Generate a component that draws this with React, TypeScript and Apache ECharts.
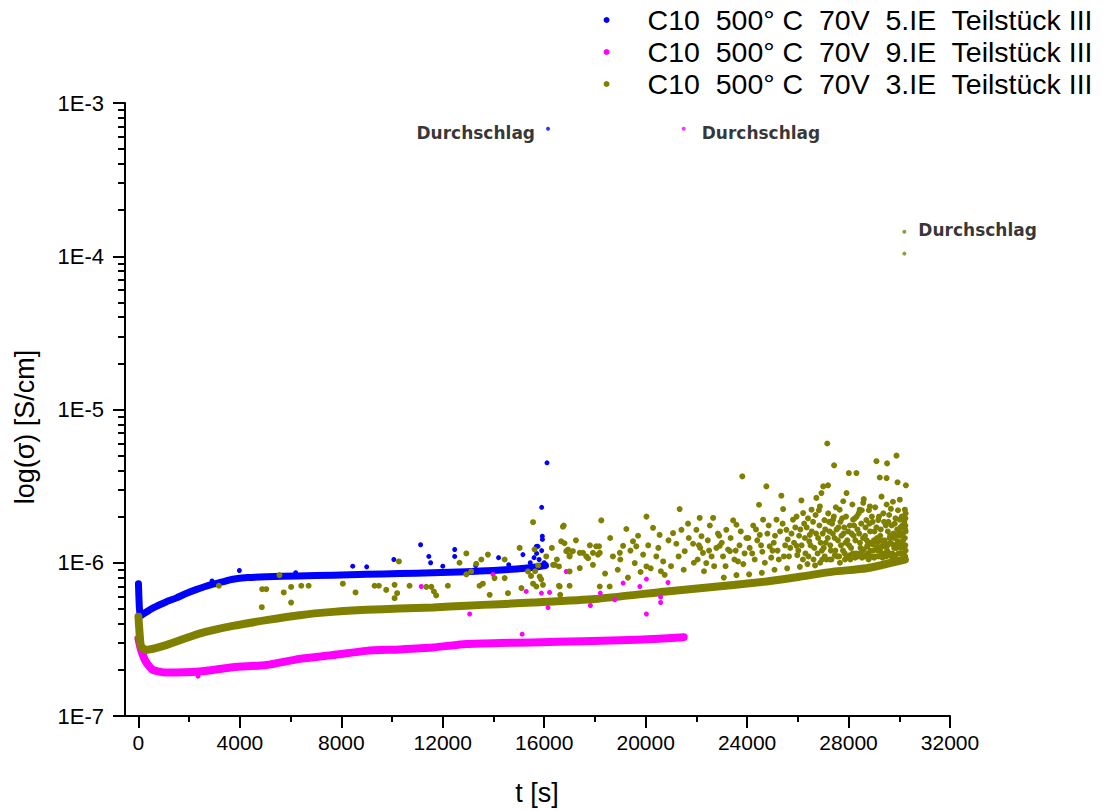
import React, { useEffect, useRef } from "react";
import * as echarts from "echarts";

const seriesNames = [
  "C10  500° C  70V  5.IE  Teilstück III",
  "C10  500° C  70V  9.IE  Teilstück III",
  "C10  500° C  70V  3.IE  Teilstück III",
];
const seriesColors = ["#0000ff", "#ff00ff", "#808000"];
const breakdownLabel = "Durchschlag";

const xTickLabels = [0, 4000, 8000, 12000, 16000, 20000, 24000, 28000, 32000];
const xMinorTicks = [2000, 6000, 10000, 14000, 18000, 22000, 26000, 30000];
const yTickLabels = ["1E-7", "1E-6", "1E-5", "1E-4", "1E-3"];
const yMinorTicks = [
  2e-7, 3e-7, 4e-7, 5e-7, 6e-7, 7e-7, 8e-7, 9e-7,
  2e-6, 3e-6, 4e-6, 5e-6, 6e-6, 7e-6, 8e-6, 9e-6,
  2e-5, 3e-5, 4e-5, 5e-5, 6e-5, 7e-5, 8e-5, 9e-5,
  2e-4, 3e-4, 4e-4, 5e-4, 6e-4, 7e-4, 8e-4, 9e-4,
];

// 5.IE (blue): dense band + scattered points + breakdown point
const blueBand: [number, number][] = [
  [0, 7.3e-7], [15, 6.2e-7], [40, 5.0e-7], [90, 4.5e-7], [250, 4.7e-7], [600, 5.1e-7],
  [1090, 5.55e-7], [1500, 5.9e-7], [1880, 6.3e-7], [2300, 6.7e-7], [2800, 7.15e-7],
  [3300, 7.5e-7], [3720, 7.8e-7], [4300, 8.0e-7], [5040, 8.1e-7], [6300, 8.2e-7],
  [7670, 8.3e-7], [9000, 8.4e-7], [10300, 8.5e-7], [11600, 8.6e-7], [12930, 8.75e-7],
  [14000, 8.9e-7], [14900, 9.1e-7], [15500, 9.3e-7], [16050, 9.6e-7],
];
const blueScatter: [number, number][] = [
  [16110, 4.49e-6], [15900, 2.3e-6], [15925, 1.49e-6], [15930, 1.42e-6], [15690, 1.28e-6],
  [11125, 1.31e-6], [11450, 1.1e-6], [11520, 1.0e-6], [12470, 1.22e-6], [12470, 1.1e-6],
  [14200, 1.08e-6], [15160, 1.13e-6], [10070, 1.05e-6], [8450, 9.5e-7], [9000, 9.4e-7],
  [3980, 8.9e-7], [12000, 9.5e-7], [15450, 1.0e-6], [15600, 1.08e-6], [15700, 1.15e-6],
  [15800, 1.05e-6], [15900, 1.2e-6], [16000, 1.0e-6], [15750, 1.28e-6], [13300, 9.6e-7],
  [14600, 9.7e-7], [6200, 8.6e-7], [2900, 7.6e-7],
];
const blueBreakdown: [number, number][] = [[16150, 6.8e-4]];

// 9.IE (magenta)
const magentaBand: [number, number][] = [
  [0, 3.2e-7], [105, 2.7e-7], [300, 2.25e-7], [565, 2.0e-7], [1090, 1.92e-7], [2400, 1.95e-7],
  [3720, 2.08e-7], [5040, 2.15e-7], [6350, 2.36e-7], [7670, 2.5e-7], [8980, 2.66e-7],
  [10300, 2.72e-7], [11610, 2.8e-7], [12930, 2.95e-7], [14240, 3.0e-7], [15550, 3.02e-7],
  [17530, 3.08e-7], [19000, 3.12e-7], [20300, 3.18e-7], [21500, 3.27e-7],
];
const magentaScatter: [number, number][] = [
  [11150, 7.0e-7], [13060, 4.63e-7], [13980, 8.4e-7], [15130, 3.42e-7], [15290, 6.5e-7],
  [15890, 6.34e-7], [16150, 5.1e-7], [16210, 6.4e-7], [16870, 8.77e-7], [17820, 5.26e-7],
  [18210, 6.34e-7], [18780, 5.73e-7], [19110, 7.37e-7], [19770, 7.0e-7], [20030, 7.82e-7],
  [20030, 4.63e-7], [20590, 5.97e-7], [20590, 5.5e-7], [20880, 7.43e-7], [2350, 1.82e-7],
];
const magentaBreakdown: [number, number][] = [[21500, 6.8e-4]];

// 3.IE (olive)
const oliveBand: [number, number][] = [
  [0, 4.45e-7], [50, 3.4e-7], [105, 2.85e-7], [300, 2.7e-7], [1090, 2.9e-7], [2400, 3.45e-7],
  [3720, 3.87e-7], [5040, 4.22e-7], [6350, 4.55e-7], [7670, 4.78e-7], [8980, 4.93e-7],
  [10300, 5.02e-7], [11610, 5.1e-7], [12930, 5.25e-7], [14240, 5.37e-7], [15550, 5.5e-7],
  [18000, 5.8e-7], [20820, 6.5e-7], [23450, 7.15e-7], [24760, 7.55e-7], [26080, 8.1e-7],
  [27390, 8.75e-7], [28710, 9.2e-7], [30220, 1.05e-6],
];
const oliveScatter: [number, number][] = [
  [3170, 7.08e-7], [4880, 6.72e-7], [5040, 6.72e-7], [4865, 5.13e-7], [5730, 6.4e-7],
  [5560, 8.3e-7], [6020, 6.95e-7], [6020, 5.5e-7], [6420, 7.08e-7], [6710, 7.08e-7],
  [8060, 7.3e-7], [8560, 6.4e-7], [9310, 7.08e-7], [9480, 7.08e-7], [9770, 6.65e-7],
  [10100, 7.18e-7], [10270, 1.02e-6], [10100, 5.87e-7], [10200, 6.33e-7], [10690, 7.08e-7],
  [11350, 6.96e-7], [11550, 6.96e-7], [11650, 6.49e-7], [11740, 6.12e-7], [12200, 7.08e-7],
  [12660, 1.0e-6], [12930, 1.15e-6], [12930, 8.4e-7], [13120, 8.78e-7], [13320, 9.85e-7],
  [13520, 1.05e-6], [13450, 7.08e-7], [13580, 7.3e-7], [13780, 1.13e-6], [13850, 6.18e-7],
  [14040, 7.94e-7], [14440, 1.05e-6], [14440, 7.94e-7], [14570, 6.33e-7], [15030, 1.25e-6],
  [15100, 6.83e-7], [15360, 8.78e-7], [15560, 1.84e-6], [15620, 1.22e-6], [15690, 7.0e-7],
  [15820, 8.13e-7], [15950, 7.18e-7], [16080, 1.1e-6], [16350, 9.7e-7], [16610, 7.0e-7],
  [16670, 1.38e-6], [16740, 1.72e-6], [16870, 1.19e-6], [17000, 1.1e-6], [17130, 1.19e-6],
  [17400, 9.23e-7], [17530, 1.16e-6], [17730, 1.07e-6], [17920, 9.7e-7], [18050, 1.28e-6],
  [18120, 1.13e-6], [15480, 8.2e-7], [15560, 7.3e-7], [15640, 8.8e-7], [15760, 9.6e-7],
  [15880, 7.8e-7],
  [16770, 1.75e-6], [16800, 1.34e-6], [16940, 1.22e-6], [17000, 1.12e-6], [17400, 1.16e-6],
  [16580, 9.46e-7], [16410, 9.7e-7], [17000, 8.78e-7], [16580, 7.08e-7], [17000, 7.08e-7],
  [16630, 6.18e-7], [17660, 1.1e-6], [17920, 1.16e-6], [18190, 1.16e-6], [18250, 1.89e-6],
  [18160, 1.28e-6], [18190, 7.0e-7], [18580, 7.0e-7], [18710, 1.1e-6], [18980, 1.16e-6],
  [19240, 1.66e-6], [19110, 1.29e-6], [19500, 1.38e-6], [19630, 1.28e-6], [19570, 9.95e-7],
  [20030, 2.0e-6], [19900, 1.13e-6], [20030, 9.46e-7], [20290, 1.69e-6], [20420, 1.1e-6],
  [20550, 1.52e-6], [20690, 1.02e-6], [20750, 8.34e-7], [21080, 1.56e-6], [21210, 1.33e-6],
  [21340, 2.24e-6], [21410, 1.64e-6], [21540, 1.19e-6], [21670, 1.8e-6], [21870, 1.33e-6],
  [22000, 1.64e-6], [22130, 1.96e-6], [22200, 1.49e-6], [22260, 1.16e-6], [22390, 9.95e-7],
  [22530, 1.75e-6], [22660, 1.96e-6], [22790, 1.25e-6], [22920, 1.29e-6], [23180, 1.64e-6],
  [23320, 1.19e-6], [23450, 1.89e-6], [23580, 1.77e-6], [23640, 1.02e-6], [23810, 3.66e-6],
  [23970, 1.45e-6], [24240, 1.75e-6], [24470, 2.39e-6], [24500, 1.52e-6], [24760, 3.15e-6],
  [24630, 1.91e-6], [24890, 1.28e-6], [25160, 1.91e-6], [25350, 2.74e-6], [25420, 2.24e-6],
  [25550, 1.64e-6], [25810, 1.91e-6], [25950, 1.29e-6], [26140, 2.55e-6], [26210, 2.11e-6],
  [26470, 1.52e-6], [26540, 2.22e-6], [26730, 2.65e-6], [26870, 2.33e-6], [26930, 2.85e-6],
  [27000, 3.15e-6], [27160, 6.0e-6], [27190, 3.2e-6], [27430, 4.32e-6], [27390, 1.91e-6],
  [27650, 2.22e-6], [27790, 2.52e-6], [27920, 2.85e-6], [28010, 3.85e-6], [28310, 3.85e-6],
  [28440, 2.22e-6], [28180, 1.91e-6], [28580, 2.46e-6], [28840, 2.33e-6], [29100, 4.6e-6],
  [29230, 3.6e-6], [29500, 3.57e-6], [29520, 4.45e-6], [29890, 5.0e-6], [29930, 3.35e-6],
  [30260, 3.2e-6], [30020, 2.58e-6], [30220, 2.22e-6], [30020, 1.91e-6],
  [18400, 8.5e-7], [18900, 9.0e-7], [19300, 8.0e-7], [19800, 8.7e-7], [20200, 9.2e-7],
  [20600, 8.8e-7], [21000, 9.5e-7], [21500, 9.0e-7], [21900, 1.0e-6], [22300, 8.8e-7],
  [22700, 9.5e-7],
  [23050, 1.1e-6], [23250, 1.22e-6], [23500, 1.05e-6], [23700, 1.3e-6], [23900, 1.15e-6],
  [24100, 1.25e-6], [24300, 1.05e-6], [24400, 1.4e-6], [24600, 1.18e-6], [24800, 1.55e-6],
  [24950, 1.08e-6], [25050, 1.35e-6], [25200, 1.2e-6], [25300, 1.6e-6], [25450, 1.1e-6],
  [25600, 1.42e-6], [25700, 1.25e-6], [25900, 1.7e-6], [25980, 1.12e-6], [26050, 1.5e-6],
  [26150, 1.3e-6], [26250, 1.8e-6], [26300, 1.15e-6], [26400, 1.95e-6], [26450, 1.38e-6],
  [26550, 1.6e-6], [26650, 1.25e-6], [26700, 2.05e-6], [26800, 1.45e-6], [26850, 1.75e-6],
  [26950, 1.2e-6], [26980, 1.55e-6], [27050, 1.9e-6], [27100, 1.35e-6], [27200, 2.1e-6],
  [27250, 1.6e-6], [27300, 1.2e-6], [27350, 1.8e-6], [27450, 1.45e-6], [27500, 2.3e-6],
  [27550, 1.1e-6], [27600, 1.7e-6], [27700, 1.3e-6], [27750, 1.95e-6], [27800, 1.55e-6],
  [27850, 1.15e-6], [27900, 2.0e-6], [27950, 1.4e-6], [28050, 1.75e-6], [28100, 1.25e-6],
  [28150, 2.4e-6], [28200, 1.5e-6], [28250, 1.95e-6], [28300, 1.15e-6], [28350, 1.65e-6],
  [28400, 2.1e-6], [28450, 1.35e-6], [28500, 1.8e-6], [28550, 1.2e-6], [28600, 2.6e-6],
  [28650, 1.5e-6], [28700, 1.9e-6], [28750, 1.3e-6], [28800, 2.2e-6], [28850, 1.6e-6],
  [28900, 1.1e-6], [28950, 1.85e-6], [29000, 1.4e-6], [29050, 2.3e-6], [29100, 1.7e-6],
  [29150, 1.2e-6], [29200, 2.0e-6], [29250, 1.5e-6], [29300, 2.7e-6], [29350, 1.3e-6],
  [29400, 1.85e-6], [29450, 1.15e-6], [29500, 2.4e-6], [29550, 1.6e-6], [29600, 2.05e-6],
  [29650, 1.35e-6], [29700, 1.75e-6], [29750, 2.5e-6], [29800, 1.25e-6], [29850, 1.95e-6],
  [29900, 1.5e-6], [29950, 2.2e-6], [30000, 1.3e-6], [30050, 1.7e-6], [30100, 2.0e-6],
  [30150, 1.4e-6], [30200, 1.85e-6], [30250, 1.2e-6], [30250, 1.6e-6], [30250, 2.1e-6],
  [22050, 1.05e-6], [22150, 1.25e-6], [22450, 1.4e-6], [22600, 1.1e-6], [22850, 1.55e-6],
  [23000, 1.35e-6], [23150, 9.5e-7], [23350, 1.45e-6], [23550, 1.2e-6], [23750, 1.6e-6],
  [23850, 9.8e-7], [24050, 1.45e-6], [24200, 1.15e-6], [24350, 1.65e-6], [24550, 1.3e-6],
  [24700, 1.0e-6], [24850, 1.75e-6], [25000, 1.2e-6], [25100, 1.5e-6], [25250, 1.05e-6],
  [25400, 1.8e-6], [25500, 1.3e-6], [25650, 1.1e-6], [25750, 1.55e-6], [25850, 1.35e-6],
  [25950, 2.0e-6], [26020, 1.2e-6], [26100, 1.65e-6], [26200, 1.05e-6], [26280, 1.45e-6],
  [26350, 1.7e-6], [26420, 1.1e-6], [26500, 1.3e-6], [26600, 1.85e-6], [26620, 1.05e-6],
  [26720, 1.55e-6], [26780, 1.15e-6], [26830, 2.2e-6], [26900, 1.35e-6], [26960, 1.05e-6],
  [27020, 1.25e-6], [27080, 1.65e-6], [27130, 1.05e-6], [27180, 1.45e-6], [27230, 1.85e-6],
  [27280, 1.3e-6], [27330, 1.05e-6], [27380, 1.55e-6], [27420, 2.0e-6], [27480, 1.2e-6],
  [27530, 1.65e-6], [27580, 1.4e-6], [27630, 1.1e-6], [27680, 1.85e-6], [27720, 1.5e-6],
  [27780, 1.2e-6], [27830, 1.7e-6], [27880, 1.35e-6], [27930, 1.1e-6], [27980, 1.6e-6],
  [28020, 1.3e-6], [28070, 1.05e-6], [28120, 1.55e-6], [28170, 1.15e-6], [28220, 1.75e-6],
  [28270, 1.4e-6], [28320, 2.0e-6], [28370, 1.1e-6], [28420, 1.55e-6], [28470, 1.25e-6],
  [28520, 2.2e-6], [28570, 1.45e-6], [28620, 1.1e-6], [28670, 1.7e-6], [28720, 1.4e-6],
  [28770, 1.15e-6], [28820, 1.8e-6], [28870, 1.35e-6], [28920, 2.0e-6], [28970, 1.2e-6],
  [29020, 1.6e-6], [29070, 1.1e-6], [29120, 1.45e-6], [29170, 1.9e-6], [29220, 1.25e-6],
  [29270, 1.65e-6], [29320, 1.15e-6], [29370, 2.1e-6], [29420, 1.4e-6], [29470, 1.75e-6],
  [29520, 1.2e-6], [29570, 1.85e-6], [29620, 1.45e-6], [29670, 2.25e-6], [29720, 1.15e-6],
  [29770, 1.55e-6], [29820, 1.8e-6], [29870, 1.3e-6], [29920, 1.65e-6], [29970, 1.15e-6],
  [30020, 1.5e-6], [30070, 1.25e-6], [30120, 1.75e-6], [30170, 1.15e-6], [30220, 1.45e-6],
  [30240, 1.3e-6], [30240, 1.75e-6], [30240, 1.95e-6],
  [28530, 1.08e-6], [28600, 1.22e-6], [28680, 1.12e-6], [28740, 1.28e-6], [28790, 1.05e-6],
  [28860, 1.2e-6], [28940, 1.32e-6], [29010, 1.08e-6], [29090, 1.25e-6], [29140, 1.35e-6],
  [29190, 1.1e-6], [29240, 1.2e-6], [29290, 1.4e-6], [29340, 1.08e-6], [29390, 1.28e-6],
  [29440, 1.35e-6], [29490, 1.1e-6], [29540, 1.3e-6], [29590, 1.15e-6], [29640, 1.5e-6],
  [29690, 1.1e-6], [29740, 1.32e-6], [29790, 1.45e-6], [29840, 1.12e-6], [29890, 1.25e-6],
  [29940, 1.38e-6], [29990, 1.6e-6], [30040, 1.15e-6], [30090, 1.35e-6], [30140, 1.55e-6],
  [30190, 1.28e-6], [30230, 1.65e-6], [30230, 1.1e-6], [27060, 1.1e-6], [27260, 1.05e-6],
  [27460, 1.12e-6], [27660, 1.0e-6], [27860, 1.05e-6], [28060, 1.12e-6], [28260, 1.08e-6],
  [28460, 1.15e-6], [26080, 9.4e-7], [26380, 9.8e-7], [26680, 9.6e-7], [26880, 1.0e-6],
  [25580, 9.2e-7], [25080, 9.0e-7], [24580, 8.6e-7], [24080, 8.4e-7], [23580, 8.3e-7],
  [23080, 8.0e-7], [16300, 1.25e-6], [16500, 1.05e-6], [17250, 1.4e-6], [17800, 1.3e-6],
  [18600, 1.45e-6], [19000, 1.05e-6], [19400, 1.2e-6], [19700, 1.5e-6], [20100, 1.3e-6],
  [20500, 1.25e-6], [20900, 1.4e-6], [21300, 1.1e-6], [21700, 1.45e-6], [22100, 1.3e-6],
  [22500, 1.2e-6], [22900, 1.5e-6],
];
const oliveBreakdown: [number, number][] = [[30200, 1.445e-4], [30200, 1.04e-4]];

const FONT = "'Liberation Sans', Arial, sans-serif";

const toLog = (pts: [number, number][]) => pts.map(([t, v]) => [t, Math.log10(v)]);

export default function App() {
  const ref = useRef<HTMLDivElement>(null);

  useEffect(() => {
    if (!ref.current) return;
    const chart = echarts.init(ref.current, undefined, { renderer: "svg" });

    const bandSeries = (name: string, data: [number, number][], color: string, width: number) => ({
      type: "line",
      name,
      data: toLog(data),
      symbol: "none",
      smooth: 0.2,
      silent: true,
      lineStyle: { color, width, cap: "round", join: "round" },
      z: 2,
    });
    const scatterSeries = (name: string, data: [number, number][], color: string, size: number) => ({
      type: "scatter",
      name,
      data: toLog(data),
      symbolSize: size,
      silent: true,
      itemStyle: { color, opacity: 1 },
      z: 3,
    });
    const breakdownSeries = (
      name: string,
      data: [number, number][],
      color: string,
      position: string,
      distance: number,
      offset: number[]
    ) => ({
      type: "scatter",
      name,
      data: toLog(data).map((d, i) => ({
        value: d,
        label: { show: i === 0 },
      })),
      symbolSize: 4,
      silent: true,
      itemStyle: { color },
      label: {
        show: true,
        position,
        distance,
        offset,
        formatter: breakdownLabel,
        fontFamily: "'DejaVu Sans', Verdana, sans-serif",
        fontWeight: "bold",
        fontSize: 17,
        color: "#000",
      },
      z: 4,
    });

    chart.setOption({
      animation: false,
      backgroundColor: "#ffffff",
      textStyle: { fontFamily: FONT },
      grid: { left: 125, top: 103, width: 825, height: 613, containLabel: false },
      legend: {
        orient: "vertical",
        right: 12,
        top: 4,
        padding: 0,
        itemWidth: 72,
        itemHeight: 6,
        itemGap: 0,
        selectedMode: false,
        data: seriesNames.map((n) => ({ name: n, icon: "circle" })),
        textStyle: { fontSize: 28.5, lineHeight: 32, fontFamily: FONT, color: "#000" },
      },
      xAxis: [
        {
          type: "value",
          position: "bottom",
          min: -530,
          max: 32000,
          splitLine: { show: false },
          axisLine: { show: true, onZero: false, lineStyle: { color: "#000", width: 2 } },
          axisTick: { show: true, customValues: xTickLabels, length: 12, lineStyle: { color: "#000", width: 2 } },
          axisLabel: {
            show: true,
            customValues: xTickLabels,
            formatter: (v: number) => String(v),
            fontSize: 21,
            margin: 16,
            color: "#000",
            fontFamily: FONT,
          },
        },
        {
          type: "value",
          position: "bottom",
          min: -530,
          max: 32000,
          splitLine: { show: false },
          axisLine: { show: false, onZero: false },
          axisTick: { show: true, customValues: xMinorTicks, length: 6, lineStyle: { color: "#000", width: 2 } },
          axisLabel: { show: false },
        },
      ],
      yAxis: [
        {
          type: "value",
          position: "left",
          min: -7,
          max: -3,
          interval: 1,
          splitLine: { show: false },
          axisLine: { show: true, onZero: false, lineStyle: { color: "#000", width: 2 } },
          axisTick: { show: true, length: 12, lineStyle: { color: "#000", width: 2 } },
          axisLabel: {
            formatter: (v: number) => yTickLabels[Math.round(v) + 7],
            fontSize: 22,
            margin: 21,
            color: "#000",
            fontFamily: FONT,
          },
        },
        {
          type: "value",
          position: "left",
          min: -7,
          max: -3,
          splitLine: { show: false },
          axisLine: { show: false, onZero: false },
          axisTick: {
            show: true,
            inside: false,
            customValues: yMinorTicks.map((v) => Math.log10(v)),
            length: 7,
            lineStyle: { color: "#000", width: 2 },
          },
          axisLabel: { show: false },
        },
      ],
      graphic: [
        {
          type: "text",
          x: 537,
          y: 793,
          style: { text: "t [s]", font: `27px ${FONT}`, fill: "#000", align: "center", verticalAlign: "middle" },
        },
        {
          type: "text",
          x: 25,
          y: 427,
          rotation: Math.PI / 2,
          style: { text: "log(σ) [S/cm]", font: `27px ${FONT}`, fill: "#000", align: "center", verticalAlign: "middle" },
        },
      ],
      series: [
        bandSeries("band5", blueBand, seriesColors[0], 7),
        scatterSeries(seriesNames[0], blueScatter, seriesColors[0], 5),
        breakdownSeries(seriesNames[0], blueBreakdown, seriesColors[0], "left", 11, [0, 4]),
        bandSeries("band9", magentaBand, seriesColors[1], 8),
        scatterSeries(seriesNames[1], magentaScatter, seriesColors[1], 5),
        breakdownSeries(seriesNames[1], magentaBreakdown, seriesColors[1], "right", 16, [0, 4]),
        bandSeries("band3", oliveBand, seriesColors[2], 8),
        scatterSeries(seriesNames[2], oliveScatter, seriesColors[2], 6),
        breakdownSeries(seriesNames[2], oliveBreakdown, seriesColors[2], "right", 12, [0, -2]),
      ],
    });

    return () => chart.dispose();
  }, []);

  return (
    <div
      ref={ref}
      style={{ position: "absolute", left: 0, top: 0, width: 1105, height: 811, background: "#fff" }}
    />
  );
}
